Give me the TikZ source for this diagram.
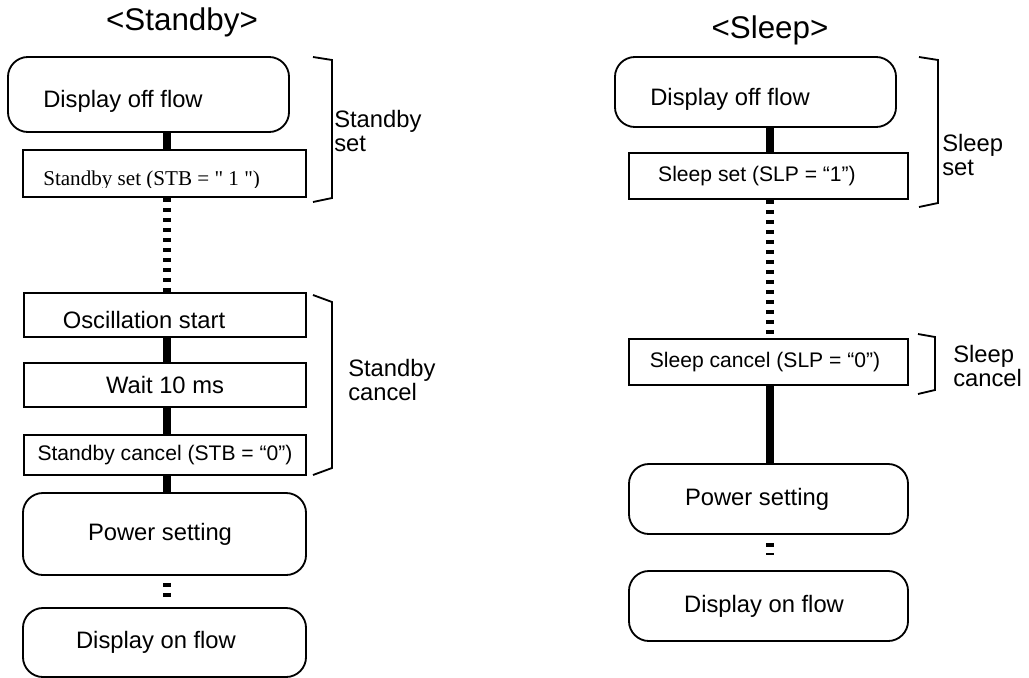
\documentclass[tikz,border=0pt]{standalone}
\usepackage{fontspec}
\setmainfont{Liberation Sans}
\newfontfamily\timesfont{Liberation Serif}
\usetikzlibrary{positioning}

\newcommand{\bigtxt}{\fontsize{16.9}{17}\selectfont}
\newcommand{\smalltxt}{\fontsize{15}{17}\selectfont}
\newcommand{\headtxt}{\fontsize{22.3}{26}\selectfont}

\tikzset{
	flowbox/.style={draw, line width=1.3pt, rectangle, rounded corners=0.5cm, inner sep=0pt, font=\bigtxt},
	stepbox/.style={draw, line width=1.3pt, rectangle, inner sep=0pt, font=\bigtxt},
	lowtext/.style={text height=#1},
	conn/.style={line width=0.19cm},
	dotconn/.style={line width=0.18cm, dash pattern=on 0.1cm off 0.15cm},
	bracket/.style={line width=1.3pt},
	sidetext/.style={align=left, anchor=west, inner sep=0pt, font=\bigtxt},
	heading/.style={anchor=base, inner sep=0pt, font=\headtxt}
}

\begin{document}
\begin{tikzpicture}[x=0.025cm, y=-0.025cm]
	\useasboundingbox (0,0) rectangle (1029,677);
	
	\coordinate (lline) at (167,0);
	\coordinate (rline) at (770,0);
	
	% Standby
	\node[heading] (lhead) at (182,30) {<Standby>};
	
	\node[flowbox, lowtext=22pt, minimum width=7.025cm, minimum height=1.875cm] (loff) at (148.5,94.5) {Display off flow\hspace*{1.275cm}};
	\node[stepbox, minimum width=7.075cm, minimum height=1.175cm] (lset) at (164.5,173.5) {};
	\begin{scope}
		\clip (lset.north west) rectangle (306,187);
		\node[anchor=base west, inner sep=0pt, font=\timesfont\fontsize{15}{17}\selectfont] (lsettxt) at (43,185) {Standby set (STB = " 1 ")};
	\end{scope}
	\node[stepbox, lowtext=20pt, minimum width=7.05cm, minimum height=1.1cm] (losc) at (165,315) {Oscillation start\hspace*{1.05cm}};
	\node[stepbox, minimum width=7.05cm, minimum height=1.1cm] (lwait) at (165,385) {Wait 10 ms};
	\node[stepbox, minimum width=7.05cm, minimum height=1.0cm, font=\smalltxt] (lcan) at (165,455) {Standby cancel (STB = “0”)};
	\node[flowbox, minimum width=7.075cm, minimum height=2.05cm] (lpow) at (164.5,534) {Power setting\hspace*{0.225cm}};
	\node[flowbox, minimum width=7.075cm, minimum height=1.725cm] (lon) at (164.5,642.5) {Display on flow\hspace*{0.425cm}};
	
	\draw[conn] (loff.south -| lline) -- (lset.north -| lline);
	\draw[dotconn] (lset.south -| lline) -- (losc.north -| lline);
	\draw[conn] (losc.south -| lline) -- (lwait.north -| lline);
	\draw[conn] (lwait.south -| lline) -- (lcan.north -| lline);
	\draw[conn] (lcan.south -| lline) -- (lpow.north -| lline);
	\draw[dotconn, shorten <=0.175cm, shorten >=0.125cm] (lpow.south -| lline) -- (lon.north -| lline);
	
	\draw[bracket] (313,57) -- (332,60) -- (332,198) -- (313,202);
	\draw[bracket] (313,295) -- (332,302) -- (332,468) -- (313,475);
	\node[sidetext] (lsetlbl) at (334,131) {Standby\\set};
	\node[sidetext] (lcanlbl) at (348,380) {Standby\\cancel};
	
	% Sleep
	\node[heading] (rhead) at (770,38) {<Sleep>};
	
	\node[flowbox, lowtext=22pt, minimum width=7.025cm, minimum height=1.75cm] (roff) at (755.5,92) {Display off flow\hspace*{1.275cm}};
	\node[stepbox, minimum width=6.975cm, minimum height=1.15cm, font=\smalltxt] (rset) at (768.5,176) {Sleep set (SLP = “1”)\hspace*{0.575cm}};
	\node[stepbox, minimum width=6.975cm, minimum height=1.15cm, font=\smalltxt] (rcan) at (768.5,362) {Sleep cancel (SLP = “0”)\hspace*{0.175cm}};
	\node[flowbox, minimum width=6.975cm, minimum height=1.75cm] (rpow) at (768.5,499) {Power setting\hspace*{0.575cm}};
	\node[flowbox, minimum width=6.975cm, minimum height=1.75cm] (ron) at (768.5,606) {Display on flow\hspace*{0.225cm}};
	
	\draw[conn] (roff.south -| rline) -- (rset.north -| rline);
	\draw[dotconn] (rset.south -| rline) -- (rcan.north -| rline);
	\draw[conn] (rcan.south -| rline) -- (rpow.north -| rline);
	\draw[dotconn, shorten <=0.2cm, shorten >=0.375cm] (rpow.south -| rline) -- (ron.north -| rline);
	
	\draw[bracket] (919,57) -- (938,60) -- (938,203) -- (919,207);
	\draw[bracket] (918,334) -- (935,337) -- (935,390) -- (918,394);
	\node[sidetext] (rsetlbl) at (942,155) {Sleep\\set};
	\node[sidetext] (rcanlbl) at (953,366) {Sleep\\cancel};
\end{tikzpicture}
\end{document}
